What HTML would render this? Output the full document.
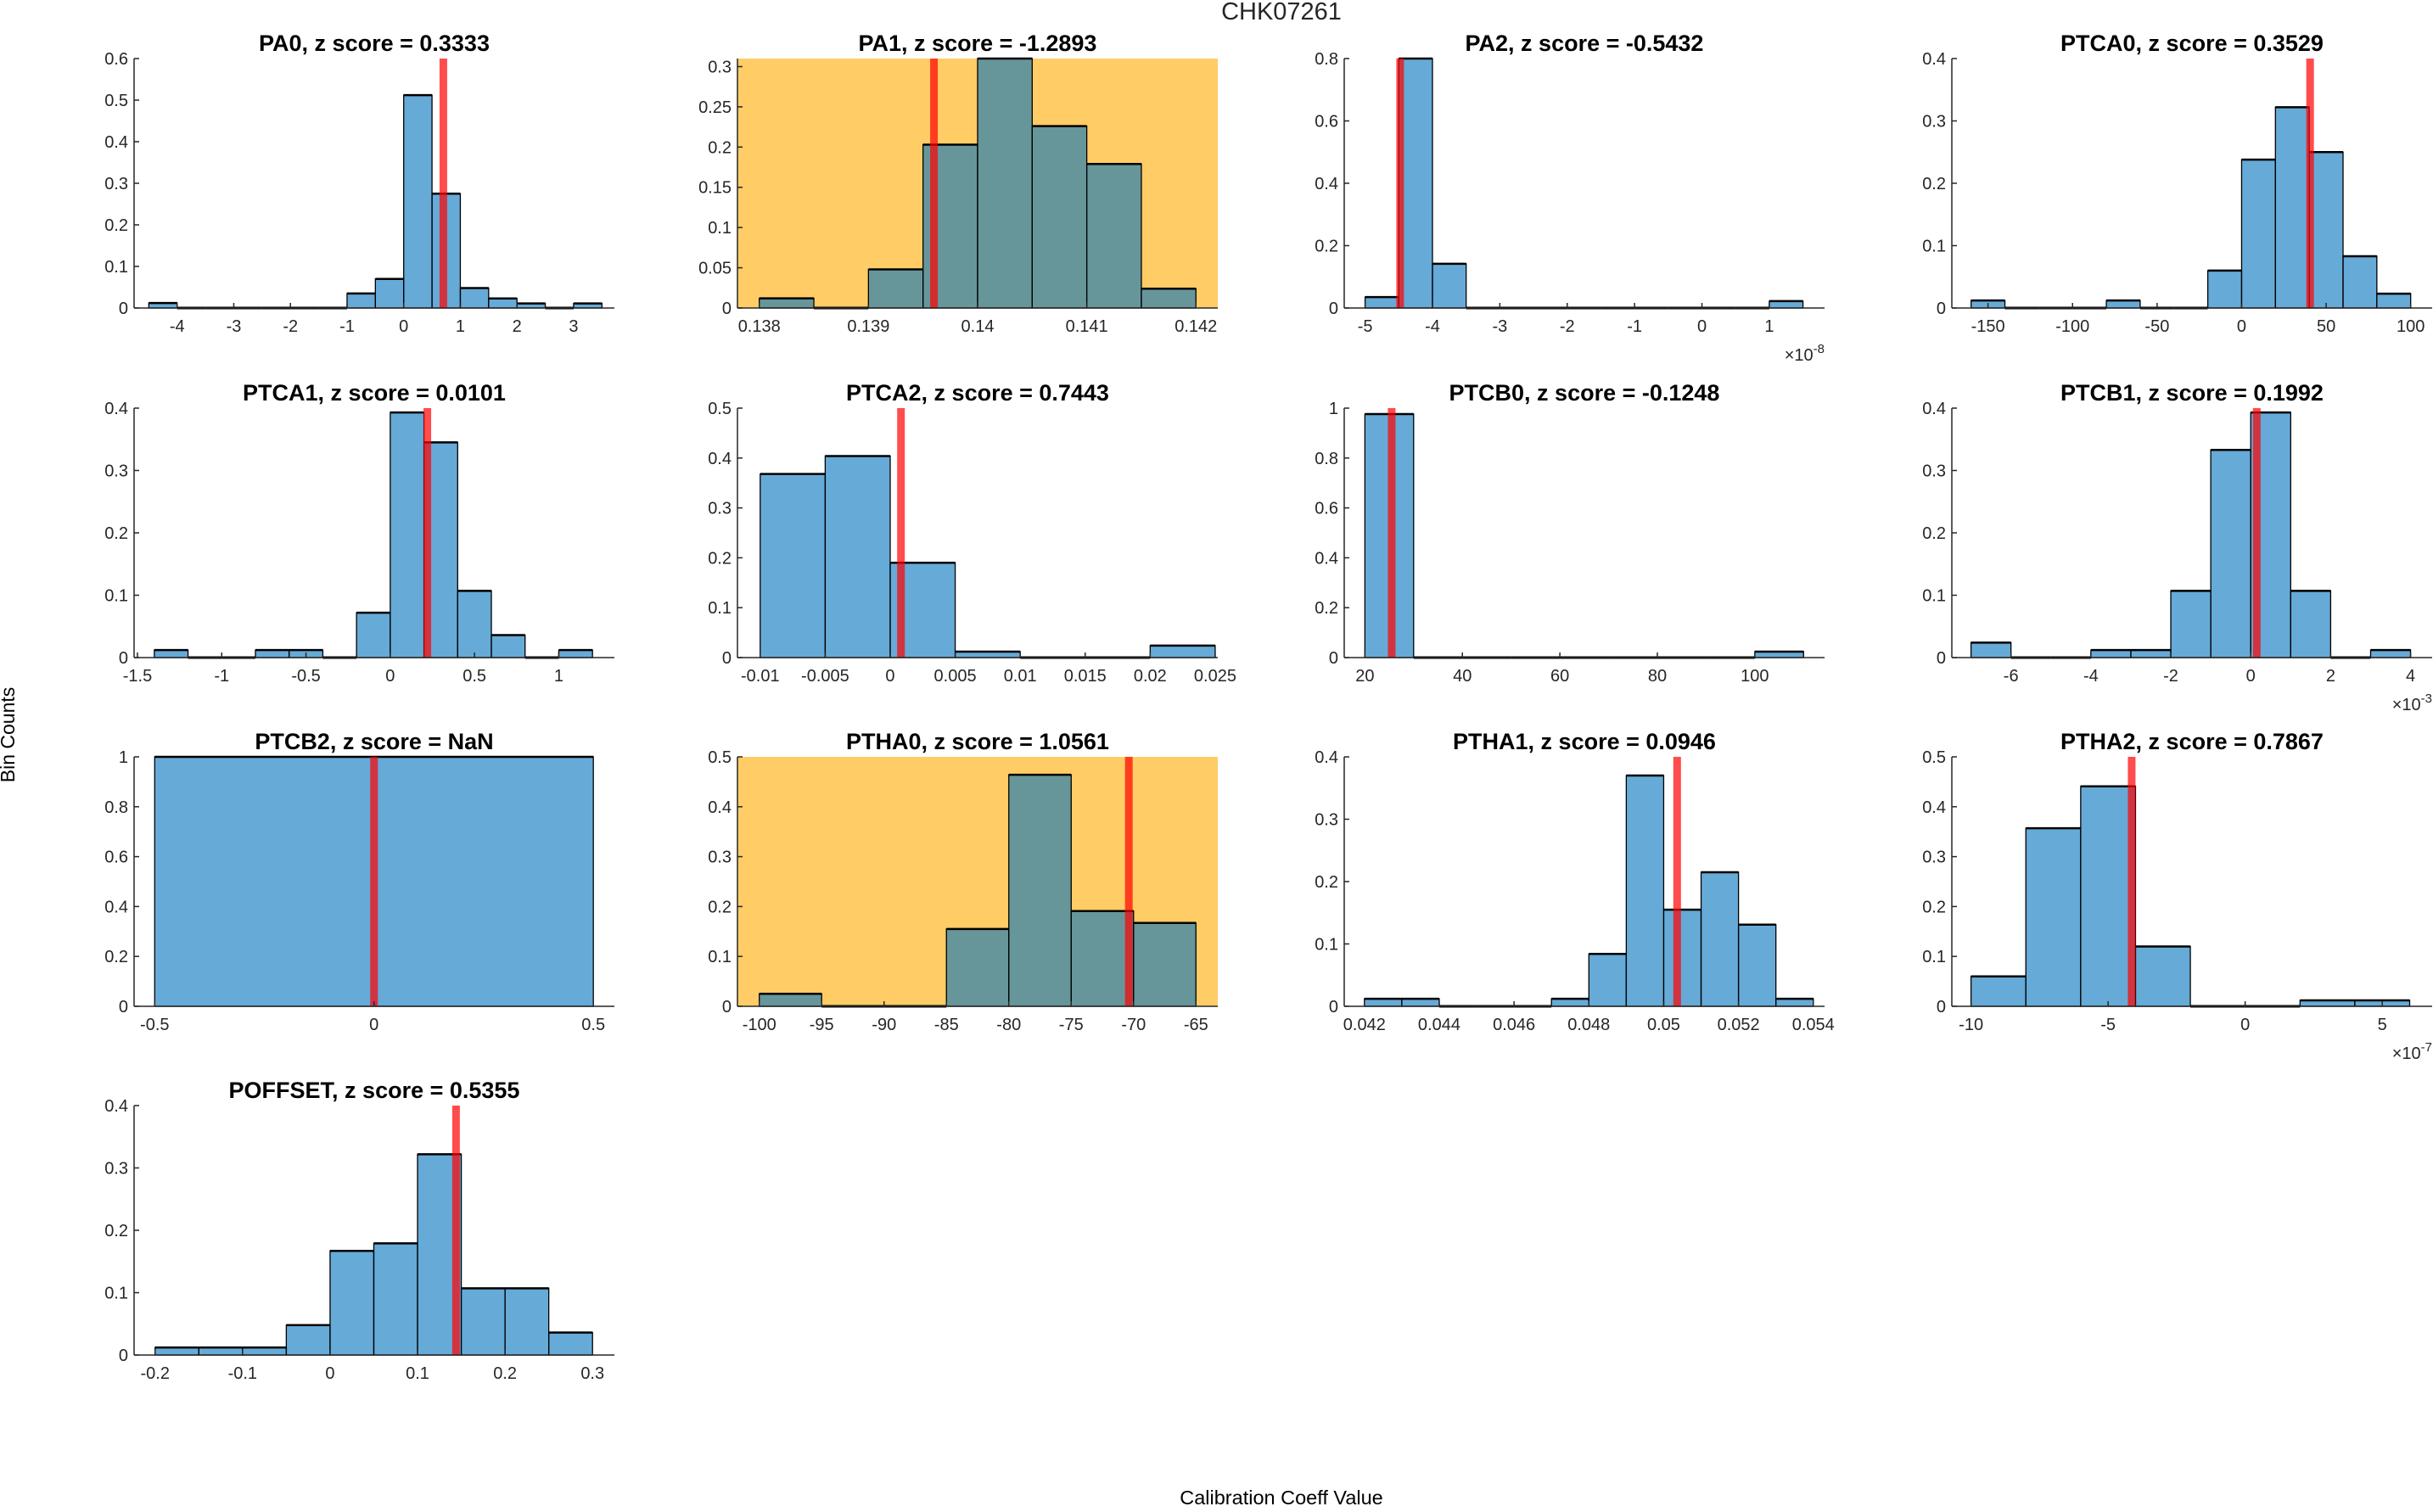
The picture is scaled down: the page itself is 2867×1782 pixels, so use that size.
<!DOCTYPE html>
<html><head><meta charset="utf-8"><style>
body{margin:0;background:#fff;}
svg text{font-family:"Liberation Sans","DejaVu Sans",sans-serif;}
</style></head><body>
<svg id="fig" xmlns="http://www.w3.org/2000/svg" width="2867" height="1777" viewBox="0 0 2867 1777">
<rect width="2867" height="1777" fill="#fff"/>
<text x="1510" y="23" font-size="29" text-anchor="middle" fill="#262626">CHK07261</text>
<text transform="translate(17,866) rotate(-90)" font-size="23" text-anchor="middle" fill="#000">Bin Counts</text>
<text x="1510" y="1773" font-size="23.5" text-anchor="middle" fill="#000">Calibration Coeff Value</text>
<g id="panels"></g>
</svg>
<script>
const panelNames = ["PA0","PA1","PA2","PTCA0","PTCA1","PTCA2","PTCB0","PTCB1","PTCB2","PTHA0","PTHA1","PTHA2","POFFSET"];
const zScores = ["0.3333","-1.2893","-0.5432","0.3529","0.0101","0.7443","-0.1248","0.1992","NaN","1.0561","0.0946","0.7867","0.5355"];
const binStarts = [-4.5,0.138,-5,-160,-1.4,-0.01,20,-7,-0.5,-100,0.042,-10,-0.2];
const binWidths = [0.5,0.0005,0.5,20,0.2,0.005,10,1,1,5,0.001,2,0.05];
const binValues = [
 [0.012,0,0,0,0,0,0,0.035,0.07,0.512,0.275,0.048,0.023,0.011,0,0.011],
 [0.012,0,0.048,0.203,0.31,0.226,0.179,0.024],
 [0.035,0.8,0.142,0,0,0,0,0,0,0,0,0,0.022],
 [0.012,0,0,0,0.012,0,0,0.06,0.238,0.322,0.25,0.083,0.023],
 [0.012,0,0,0.012,0.012,0,0.072,0.393,0.345,0.107,0.036,0,0.012],
 [0.368,0.404,0.19,0.012,0,0,0.024],
 [0.976,0,0,0,0,0,0,0,0.024],
 [0.024,0,0,0.012,0.012,0.107,0.333,0.393,0.107,0,0.012],
 [1],
 [0.025,0,0,0.155,0.464,0.191,0.167],
 [0.012,0.012,0,0,0,0.012,0.084,0.37,0.155,0.215,0.131,0.012],
 [0.06,0.357,0.441,0.12,0,0,0.012,0.012],
 [0.012,0.012,0.012,0.048,0.167,0.179,0.322,0.107,0.107,0.036]
];
const markerValues = [0.7,0.1396,-4.48,40.5,0.22,0.00083,25.5,0.15,0,-70.38,0.05036,-4.14,0.144];
const xMins = [-4.76,0.1378,-5.31,-171.4,-1.52,-0.01175,15.76,-7.48,-0.547,-101.75,0.04146,-10.7,-0.224];
const xMaxs = [3.72,0.1422,1.82,112.7,1.33,0.0252,114.3,4.54,0.548,-63.25,0.0543,6.82,0.325];
const yMaxs = [0.6,0.31,0.8,0.4,0.4,0.5,1,0.4,1,0.5,0.4,0.5,0.4];
const yTickSteps = [0.1,0.05,0.2,0.1,0.1,0.1,0.2,0.1,0.2,0.1,0.1,0.1,0.1];
const xTickValues = [
 [-4,-3,-2,-1,0,1,2,3],
 [0.138,0.139,0.14,0.141,0.142],
 [-5,-4,-3,-2,-1,0,1],
 [-150,-100,-50,0,50,100],
 [-1.5,-1,-0.5,0,0.5,1],
 [-0.01,-0.005,0,0.005,0.01,0.015,0.02,0.025],
 [20,40,60,80,100],
 [-6,-4,-2,0,2,4],
 [-0.5,0,0.5],
 [-100,-95,-90,-85,-80,-75,-70,-65],
 [0.042,0.044,0.046,0.048,0.05,0.052,0.054],
 [-10,-5,0,5],
 [-0.2,-0.1,0,0.1,0.2,0.3]
];
const exponents = ["","","-8","","","","","-3","","","","-7",""];
const flagged = [false,true,false,false,false,false,false,false,false,true,false,false,false];

const NS="http://www.w3.org/2000/svg";
const colLefts=[158,869,1584,2300], rowTops=[69,481,892,1303], AW=566, AH=294;
const root=document.getElementById('panels');
function mk(tag,attrs,parent){const e=document.createElementNS(NS,tag);for(const k in attrs)e.setAttribute(k,attrs[k]);parent.appendChild(e);return e;}
function fmt(v){return String(+v.toPrecision(10));}

panelNames.forEach((name,i)=>{
  const L=colLefts[i%4], T=rowTops[Math.floor(i/4)], B=T+AH, R=L+AW;
  const sx=v=>L+(v-xMins[i])/(xMaxs[i]-xMins[i])*AW;
  const sy=v=>B-v/yMaxs[i]*AH;
  const g=mk('g',{},root);
  
  
  if(flagged[i]){
    const bg=mk('rect',{x:L,y:T,width:AW,height:AH,fill:'#FFCC66'},g);
    
    
  }
  const t=mk('text',{x:L+AW/2,y:T-9,'font-size':27,'font-weight':'bold','text-anchor':'middle',fill:'#000'},g);
  t.textContent=name+', z score = '+zScores[i];
  
  
  binValues[i].forEach((v,k)=>{
    const x0=sx(binStarts[i]+k*binWidths[i]), x1=sx(binStarts[i]+(k+1)*binWidths[i]);
    const r=mk('rect',{x:x0,y:sy(v),width:x1-x0,height:B-sy(v),fill:'#0072BD','fill-opacity':0.6,stroke:'#000','stroke-width':1.3},g);
    
    
    if(v>0){const tl=mk('line',{x1:x0,y1:sy(v),x2:x1,y2:sy(v),stroke:'#000','stroke-width':2.5},g);
      
      }
    else{const zl=mk('line',{x1:x0,y1:B,x2:x1,y2:B,stroke:'#000','stroke-width':3},g);
      
      }
  });
  const m=mk('rect',{x:sx(markerValues[i])-4.5,y:T,width:9,height:AH,fill:'#FF0000','fill-opacity':0.7},g);
  
  
  const ya=mk('line',{x1:L,y1:T,x2:L,y2:B,stroke:'#262626','stroke-width':1.5},g);
  
  
  const xa=mk('line',{x1:L,y1:B,x2:R,y2:B,stroke:'#262626','stroke-width':1.5},g);
  
  
  const n=Math.round(yMaxs[i]/yTickSteps[i]+1e-6);
  for(let k=0;k<=n;k++){
    const v=k*yTickSteps[i], y=sy(v);
    mk('line',{x1:L,y1:y,x2:L+6,y2:y,stroke:'#262626','stroke-width':1.5},g);
    const lt=mk('text',{x:L-7,y:y+7,'font-size':20,'text-anchor':'end',fill:'#262626'},g);
    lt.textContent=fmt(v);
    
    
  }
  xTickValues[i].forEach(v=>{
    const x=sx(v);
    mk('line',{x1:x,y1:B,x2:x,y2:B-6,stroke:'#262626','stroke-width':1.5},g);
    const lt=mk('text',{x:x,y:B+28,'font-size':20,'text-anchor':'middle',fill:'#262626'},g);
    lt.textContent=fmt(v);
    
    
  });
  if(exponents[i]){
    const et=mk('text',{x:R,y:B+62,'font-size':20,'text-anchor':'end',fill:'#262626'},g);
    
    
    et.appendChild(document.createTextNode('×10'));
    const ts=mk('tspan',{dy:-9,'font-size':15},et);
    ts.textContent=exponents[i];
  }
});
</script>
</body></html>
